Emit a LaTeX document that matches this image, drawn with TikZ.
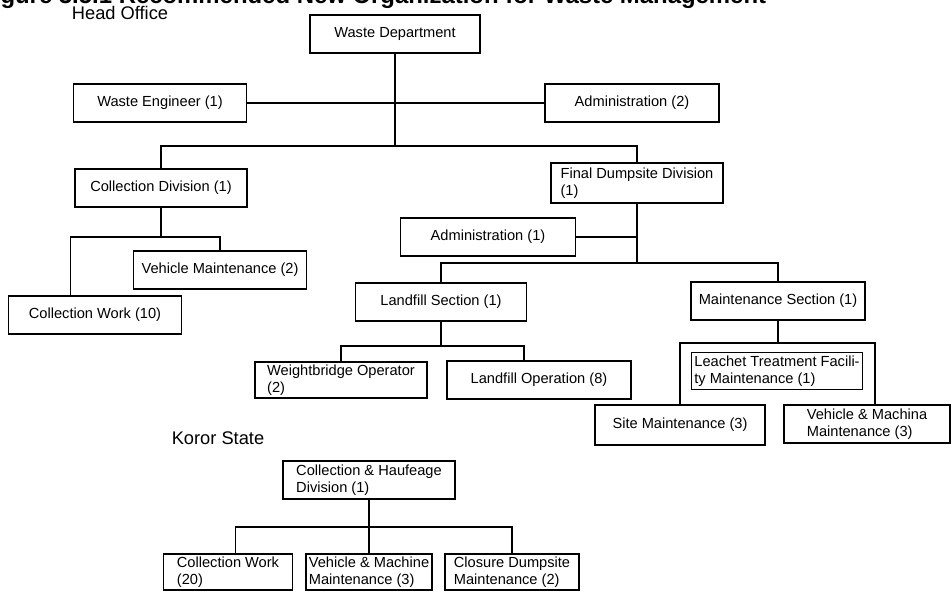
\documentclass[tikz,border=0pt]{standalone}
\usepackage{fontspec}
\setmainfont{Liberation Sans}

\begin{document}
\begin{tikzpicture}[x=0.025cm,y=-0.025cm,
  box/.style={draw,line width=1.1pt,minimum height=0.95cm,inner sep=1.5pt,align=left,font=\fontsize{10.4}{11.8}\selectfont},
  wire/.style={line width=1pt},
  place/.style={font=\fontsize{13}{15}\selectfont}]
 \useasboundingbox (0,0) rectangle (952,591);
 \clip (0,0) rectangle (952,591);
 \node[anchor=base west,inner sep=0pt,font=\bfseries\fontsize{17}{20}\selectfont,name=title] at (-21,4) {Figure 3.5.1 Recommended New Organization for Waste Management};
 \node[place,name=head]  at (120,13)  {Head Office};
 \node[place,name=koror] at (218,438) {Koror State};

 \node[box,minimum width=4.25cm,name=dept]     at (395,34)  {Waste Department};
 \node[box,minimum width=4.33cm,name=eng]      at (160,103) {Waste Engineer (1)};
 \node[box,minimum width=4.35cm,name=admin2]   at (632,103) {Administration (2)};
 \node[box,minimum width=4.3cm, name=coll]     at (161,188) {Collection Division (1)};
 \node[box,minimum width=4.3cm, minimum height=1cm,name=final] at (637,183) {Final Dumpsite Division\\(1)};
 \node[box,minimum width=4.38cm,name=admin1]   at (488,237) {Administration (1)};
 \node[box,minimum width=4.33cm,name=vehicle]  at (220,270) {Vehicle Maintenance (2)};
 \node[box,minimum width=4.33cm,name=work10]   at (95,315)  {Collection Work (10)};
 \node[box,minimum width=4.28cm,name=landfill] at (441,302) {Landfill Section (1)};
 \node[box,minimum width=4.35cm,name=maint]    at (778,301) {Maintenance Section (1)};
 \node[box,minimum width=4.3cm, minimum height=0.9cm,name=weigh] at (341,380) {Weightbridge Operator\\(2)};
 \node[box,minimum width=4.6cm, name=operation] at (539,380) {Landfill Operation (8)};
 \node[box,minimum width=4.28cm,minimum height=0.92cm,name=leachet] at (777,371) {Leachet Treatment Facili-\\ty Maintenance (1)};
 \node[box,minimum width=4.25cm,minimum height=1cm,name=site] at (680,425) {Site Maintenance (3)};
 \node[box,minimum width=4.15cm,name=machina]  at (867,424) {Vehicle \& Machina\\Maintenance (3)};

 \node[box,minimum width=4.3cm, name=haulage]  at (369,480) {Collection \& Haufeage\\Division (1)};
 \node[box,minimum width=3.23cm,minimum height=0.9cm,name=work20]  at (228,572) {Collection Work\\(20)};
 \node[box,minimum width=3.15cm,minimum height=0.9cm,name=machine] at (369,572) {Vehicle \& Machine\\Maintenance (3)};
 \node[box,minimum width=3.35cm,minimum height=0.9cm,name=closure] at (512,572) {Closure Dumpsite\\Maintenance (2)};

 \coordinate (top) at (395,146);
 \draw[wire] (dept) -- (top);
 \draw[wire] (eng) -- (admin2);
 \draw[wire] (coll) |- (top) -| (final);

 \coordinate (cj) at (161,237);
 \draw[wire] (coll) -- (cj);
 \draw[wire] ([xshift=-0.61cm]work10.north) |- (cj) -| (vehicle);

 \coordinate (fj) at (637,263);
 \draw[wire] (final) -- (fj);
 \draw[wire] (admin1) -- (admin1 -| final);
 \draw[wire] (landfill) |- (fj) -| (maint);

 \coordinate (lj) at (441,346);
 \draw[wire] (landfill) -- (lj);
 \draw[wire] (weigh) |- (lj) -| ([xshift=-0.38cm]operation.north);

 \coordinate (mj) at (778,343);
 \draw[wire] (maint) -- (mj);
 \draw[wire] (site) |- (mj) -| ([xshift=0.2cm]machina.north);

 \coordinate (hj) at (369,527);
 \draw[wire] (haulage) -- (machine);
 \draw[wire] ([xshift=0.19cm]work20.north) |- (hj) -| (closure);
\end{tikzpicture}
\end{document}
